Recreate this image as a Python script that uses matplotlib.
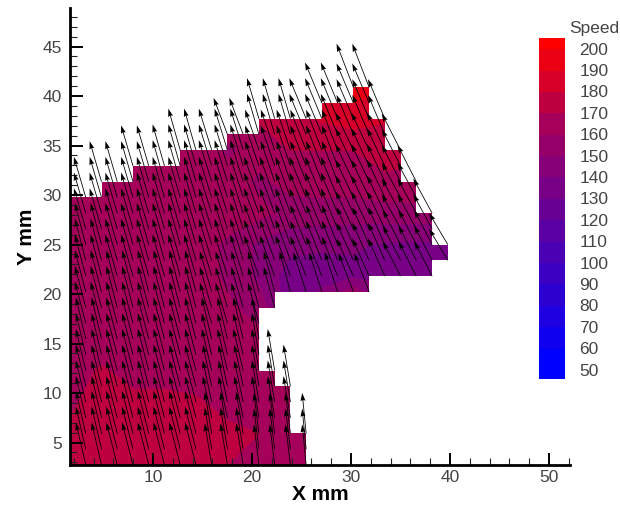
import numpy as np
import matplotlib
matplotlib.use("Agg")
import matplotlib.pyplot as plt
from matplotlib.colors import ListedColormap
from matplotlib.path import Path
from matplotlib.patches import PathPatch

# ---------- data ----------
grid_x0, grid_y0, grid_step = 1.62, 2.73, 1.59   # mm, measurement lattice

# cell columns k = 0..23: lattice row of top edge, bottom edge of the upper part
col_top = [17, 17, 18, 18, 19, 19, 19, 20, 20, 20, 21, 21,
           22, 22, 22, 22, 23, 23, 24, 22, 20, 18, 16, 14]
col_bottom = [0] * 12 + [10, 11, 11, 11, 11, 11, 11, 12, 12, 12, 12, 13]
# lower separated part of the columns that have a gap: {column: top row}
lower_part_top = {12: 6, 13: 5, 14: 2}

# speed read at every second lattice node (rows top to bottom)
speed_cols = list(range(0, 25, 2))
speed_rows = list(range(24, -1, -2))
speed = [
    [165, 165, 165, 165, 168, 172, 176, 178, 183, 196, 190, 182, 175],
    [165, 165, 165, 165, 165, 165, 171, 176, 181, 185, 181, 177, 175],
    [165, 165, 165, 165, 165, 158, 164, 170, 170, 170, 174, 172, 170],
    [165, 165, 165, 165, 165, 165, 158, 163, 165, 165, 168, 168, 165],
    [165, 165, 165, 165, 165, 165, 163, 156, 155, 155, 155, 156, 156],
    [165, 165, 165, 165, 165, 158, 148, 143, 142, 141, 139, 138, 138],
    [165, 165, 165, 165, 165, 158, 148, 135, 134, 138, 135, 135, 135],
    [165, 165, 165, 165, 165, 162, 155, 135, 150, 175, 150, 135, 135],
    [165, 165, 165, 165, 165, 165, 163, 162, 165, 165, 165, 165, 165],
    [166, 171, 167, 167, 166, 165, 165, 165, 165, 165, 165, 165, 165],
    [168, 175, 172, 172, 171, 167, 165, 165, 165, 165, 165, 165, 165],
    [172, 176, 176, 176, 175, 172, 170, 165, 165, 165, 165, 165, 165],
    [175, 176, 176, 176, 175, 170, 165, 165, 165, 165, 165, 165, 165],
]

# arrow components in mm, read per band of three lattice columns / rows
# (rows: lattice rows 0-2, 3-5, ... 24)
arrow_dx = [
    [1.0, 1.1, 1.1, 0.7, 0.5, 0.4, 0.4, 0.4, 0.4],
    [1.0, 1.1, 1.1, 0.9, 0.7, 0.6, 0.6, 0.6, 0.6],
    [1.0, 1.1, 1.1, 1.0, 0.7, 0.8, 0.8, 0.8, 0.8],
    [1.1, 1.1, 1.1, 1.2, 1.1, 1.3, 1.5, 1.7, 1.9],
    [1.1, 1.2, 1.2, 1.3, 1.5, 1.6, 1.7, 1.8, 1.9],
    [1.2, 1.2, 1.2, 1.3, 1.5, 1.7, 1.8, 1.9, 1.9],
    [1.2, 1.2, 1.2, 1.3, 1.4, 1.6, 1.8, 1.9, 1.9],
    [1.2, 1.2, 1.3, 1.4, 1.2, 1.7, 1.7, 1.8, 1.8],
    [1.2, 1.2, 1.3, 1.4, 1.5, 1.7, 1.7, 1.8, 1.8],
]
arrow_dy = [
    [4.3, 4.3, 4.3, 4.2, 4.1, 4.1, 4.1, 4.1, 4.1],
    [4.2, 4.2, 4.2, 4.2, 4.2, 4.2, 4.2, 4.2, 4.2],
    [4.2, 4.2, 4.2, 4.2, 4.2, 4.2, 4.2, 4.2, 4.2],
    [4.2, 4.2, 4.2, 4.1, 4.1, 4.0, 3.9, 3.8, 3.6],
    [4.2, 4.2, 4.2, 4.2, 4.1, 4.0, 3.8, 3.5, 3.2],
    [4.1, 4.1, 4.1, 4.1, 4.1, 4.1, 3.8, 3.5, 3.5],
    [4.1, 4.1, 4.2, 4.2, 4.1, 4.1, 3.8, 3.7, 3.7],
    [4.1, 4.1, 4.1, 3.7, 4.1, 4.1, 4.0, 4.0, 4.0],
    [4.4, 4.4, 4.4, 4.4, 4.4, 4.4, 4.4, 4.4, 4.4],
]

bar_levels = list(range(50, 201, 10))
band_red = [0, 0, 15, 30, 45, 60, 75, 90, 105, 120, 135, 150, 165, 190, 215, 235, 255]
x_ticks = [10, 20, 30, 40, 50]
y_ticks = [5, 10, 15, 20, 25, 30, 35, 40, 45]

# ---------- drawing ----------
W, H = 620, 507
plt.rcParams["font.family"] = ["Liberation Sans", "DejaVu Sans"]
fig = plt.figure(figsize=(W / 100, H / 100), dpi=100)
ax = fig.add_axes([70 / W, 1 - 465 / H, 500 / W, 457 / H])
ax.set_xlim(1.616, 52.12)
ax.set_ylim(2.727, 48.9)

band_colors = [(r / 255, 0, (255 - r) / 255) for r in band_red]
lx = lambda i: grid_x0 + grid_step * np.asarray(i, float)
ly = lambda j: grid_y0 + grid_step * np.asarray(j, float)

# contour bands
XX, YY = np.meshgrid(lx(speed_cols), ly(speed_rows))
cs = ax.contourf(XX, YY, np.array(speed, float),
                 levels=[-1000] + bar_levels + [1000], colors=band_colors,
                 antialiased=False, zorder=1)

# staircase outline of the measured domain
n = len(col_top)
verts = []
for k in range(n):
    verts += [(k, col_top[k]), (k + 1, col_top[k])]
for k in range(n - 1, 11, -1):
    verts += [(k + 1, col_bottom[k]), (k, col_bottom[k])]
for k in sorted(lower_part_top):
    verts += [(k, lower_part_top[k]), (k + 1, lower_part_top[k])]
last = max(lower_part_top) + 1
verts += [(last, 0), (0, 0), (0, col_top[0])]
poly = np.array([(lx(a), ly(b)) for a, b in verts])
domain = PathPatch(Path(poly), transform=ax.transData, fc="none", ec="none")
ax.add_patch(domain)
cs.set_clip_path(domain)

# arrows: one at every lattice node touching a cell
nodes = set()
for k in range(n):
    bottom = col_bottom[k]
    for j in range(bottom, col_top[k] + 1):
        nodes.add((k, j))
        nodes.add((k + 1, j))
    if k in lower_part_top:
        for j in range(0, lower_part_top[k] + 1):
            nodes.add((k, j))
            nodes.add((k + 1, j))
nodes = sorted(nodes)
ni = np.array([a for a, b in nodes])
nj = np.array([b for a, b in nodes])
U = -np.array(arrow_dx)[nj // 3, ni // 3]
V = np.array(arrow_dy)[nj // 3, ni // 3]
ax.quiver(lx(ni), ly(nj), U, V, angles="xy", scale_units="xy", scale=1,
          units="dots", width=0.8, headwidth=6.2, headlength=10,
          headaxislength=9, color="black", zorder=3)

# axes furniture
for s in ("top", "right"):
    ax.spines[s].set_visible(False)
for s in ("left", "bottom"):
    ax.spines[s].set_linewidth(2.0)
    ax.spines[s].set_zorder(5)
ax.set_xticks(x_ticks)
ax.set_yticks(y_ticks)
ax.set_xticks(np.arange(2, 53, 2), minor=True)
ax.set_yticks(np.arange(3, 49, 1), minor=True)
ax.tick_params(which="major", direction="in", length=9, width=1.4, zorder=4,
               labelsize=12.5, labelcolor="#444444", pad=6)
ax.tick_params(which="minor", direction="in", length=5, width=0.8, color="#222222")
ax.tick_params(axis="x", which="major", pad=3.5)
ax.set_facecolor("white")

fig.text(320 / W, 1 - 495 / H, "X mm", fontsize=15, fontweight="bold",
         ha="center", va="center")
fig.text(26.5 / W, 1 - 236.5 / H, "Y mm", fontsize=15, fontweight="bold",
         ha="center", va="center", rotation=90)

# colour bar
cax = fig.add_axes([539 / W, 1 - 379 / H, 26 / W, 341 / H])
edges = [45.8] + bar_levels + [205.2]
cax.pcolormesh([0, 1], edges, np.arange(17).reshape(-1, 1),
               cmap=ListedColormap(band_colors), vmin=-0.5, vmax=16.5)
cax.set_ylim(45.8, 205.2)
cax.set_xlim(0, 1)
cax.axis("off")
for lev in bar_levels:
    fig.text(579.5 / W, (cax.transData.transform((0, lev))[1] - 1) / H, str(lev),
             fontsize=12.5, color="#444444", ha="left", va="center")
fig.text(569.5 / W, 1 - 29 / H, "Speed", fontsize=12.5, color="#444444",
         ha="left", va="center")

fig.savefig("out.png", dpi=100)
